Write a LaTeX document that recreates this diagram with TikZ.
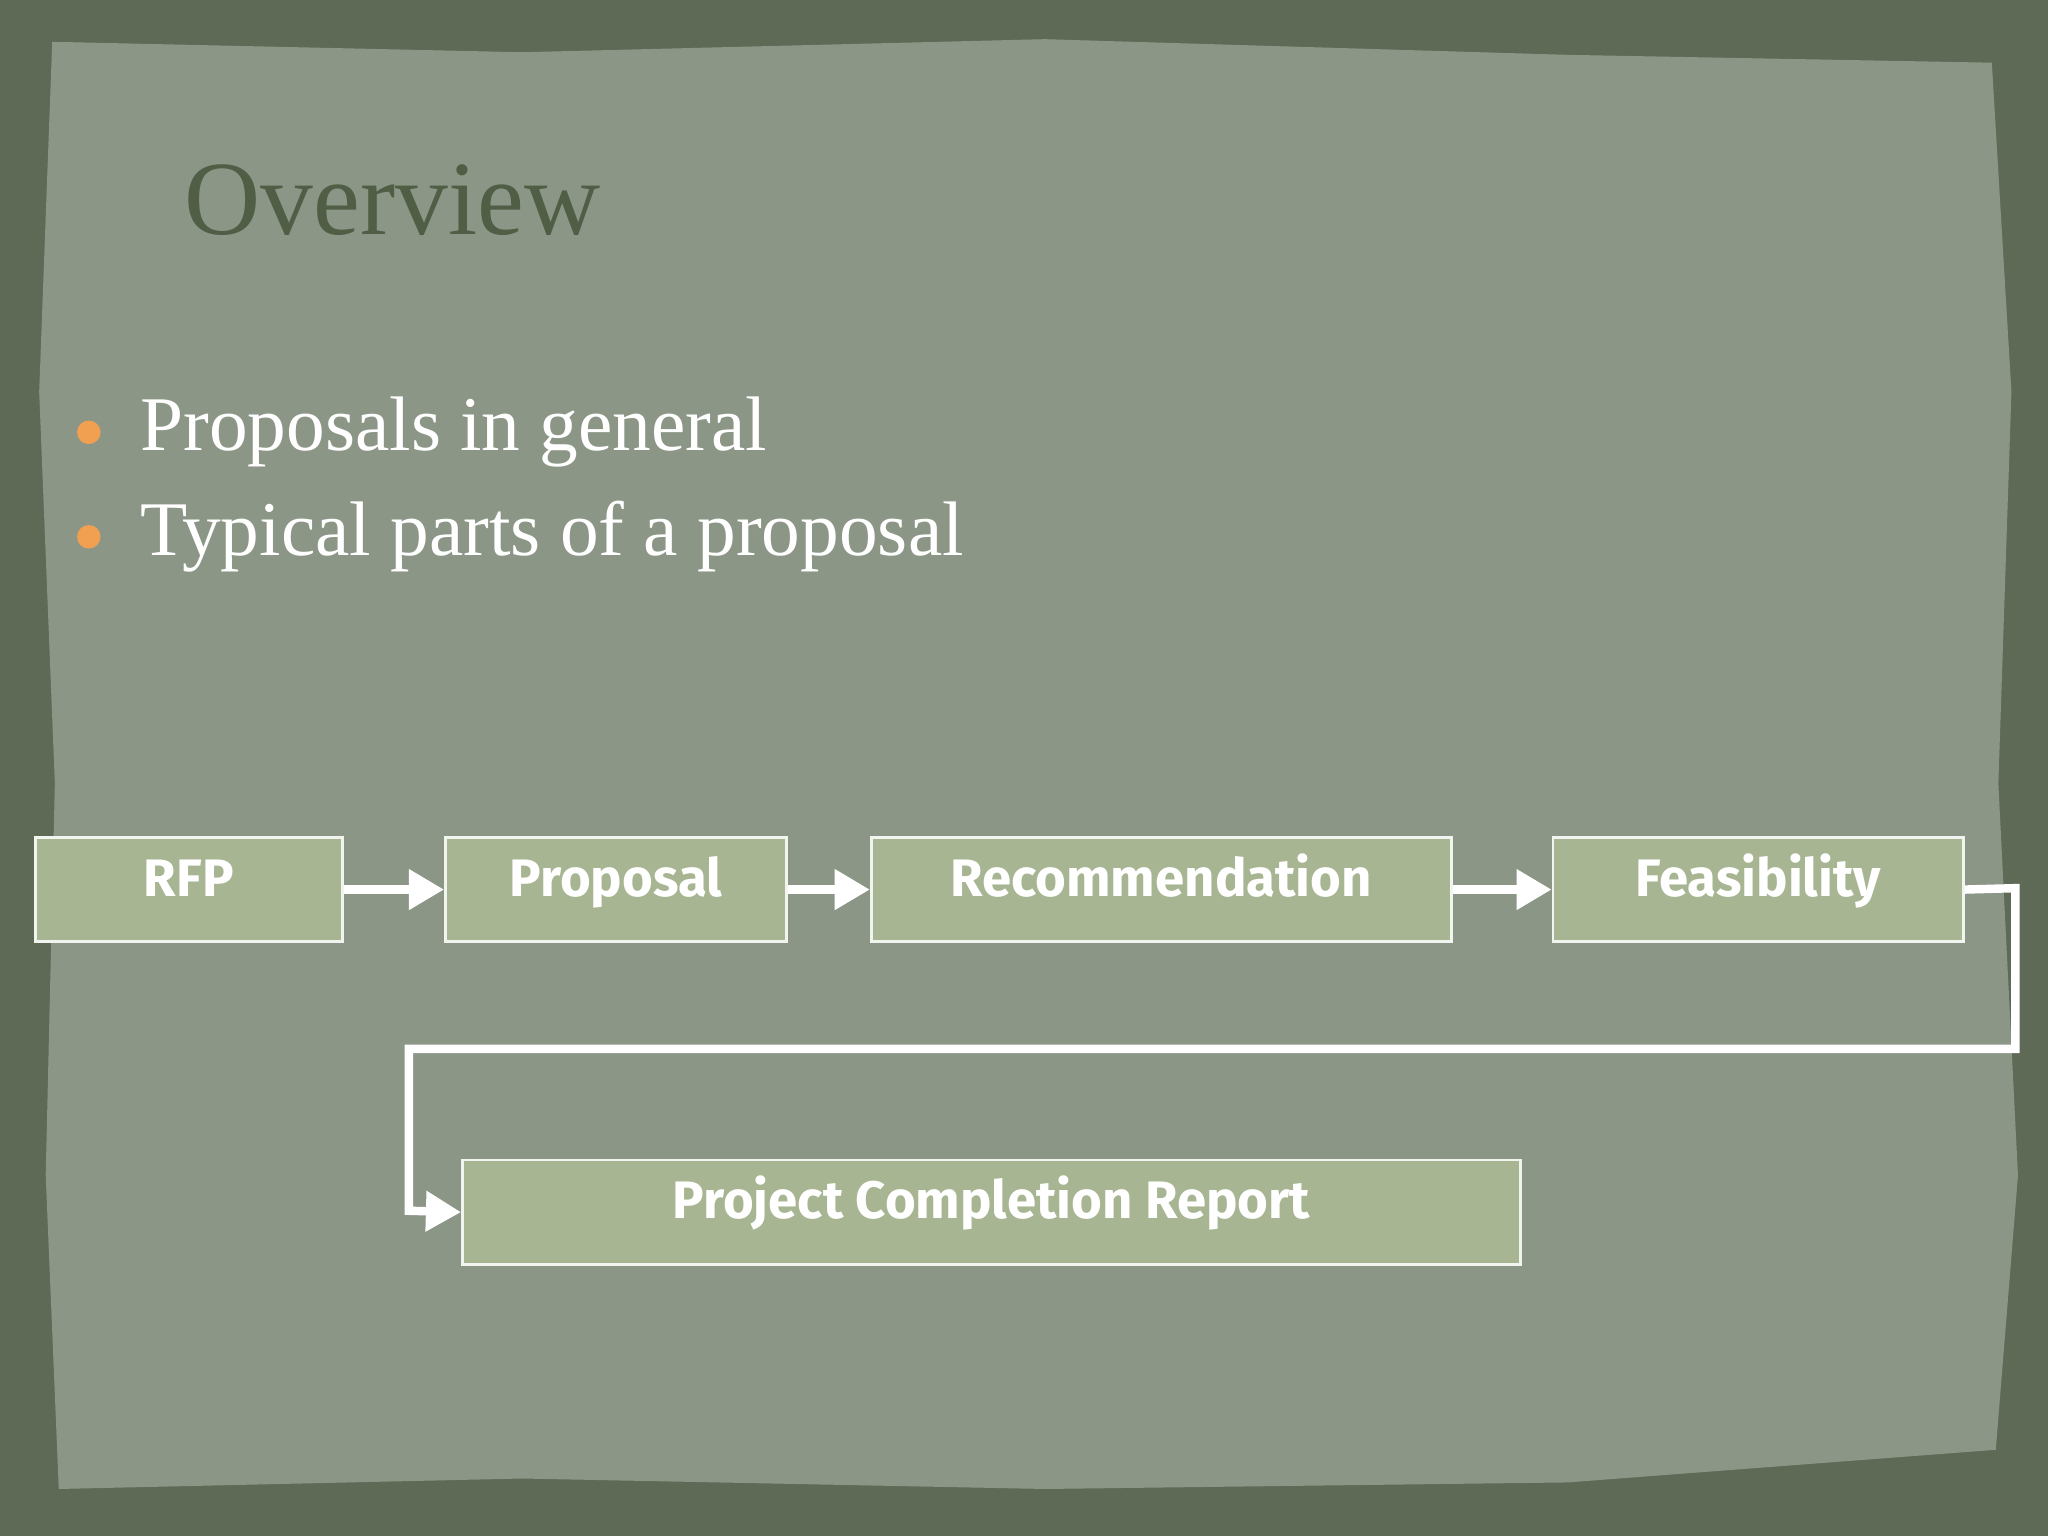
\documentclass[tikz,border=0pt]{standalone}
\usepackage{fontspec}
\setmainfont{Liberation Serif}
\newfontfamily\boxfont{Fira Sans}
\usetikzlibrary{arrows.meta}
\definecolor{frame}{HTML}{5E6A56}
\definecolor{paper}{HTML}{8C9686}
\definecolor{boxfill}{HTML}{A7B592}
\definecolor{titlec}{HTML}{4F5E45}
\definecolor{bulletc}{HTML}{F0A050}
\tikzset{
 stepbox/.style={draw=white!85!boxfill, line width=0.8pt, fill=boxfill, text=white, font=\boxfont\bfseries\fontsize{15}{17}\selectfont, anchor=north west, inner sep=0pt, text height=1.7ex, text depth=0.9ex},
 flow/.style={draw=white, line width=2.4pt, -{Triangle[length=10pt,width=11pt]}},
 bullettext/.style={text=white, font=\fontsize{22}{25}\selectfont, anchor=west}
}
\begin{document}
\begin{tikzpicture}[x=0.013061cm,y=-0.013061cm]
\useasboundingbox (0,0) rectangle (1568,1176);
\fill[frame] (0,0) rectangle (1568,1176);
\fill[paper] (40,32) -- (400,40) -- (800,30) -- (1200,42) -- (1525,48) -- (1540,300) -- (1530,600) -- (1545,900) -- (1528,1110) -- (1200,1135) -- (800,1140) -- (400,1132) -- (45,1140) -- (35,900) -- (42,600) -- (30,300) -- cycle;
\node[anchor=west, text=titlec, font=\fontsize{30}{34}\selectfont] (title) at (132,153) {Overview};
\fill[bulletc] (68,331) circle (9);
\fill[bulletc] (68,411) circle (9);
\node[bullettext] (b1) at (98,331) {Proposals in general};
\node[bullettext] (b2) at (98,411) {Typical parts of a proposal};
\node[stepbox, minimum width=235*0.013061cm, minimum height=80*0.013061cm] (rfp) at (26,640) {RFP};
\node[stepbox, minimum width=261*0.013061cm, minimum height=80*0.013061cm] (prop) at (340,640) {Proposal};
\node[stepbox, minimum width=444*0.013061cm, minimum height=80*0.013061cm] (rec) at (666,640) {Recommendation};
\node[stepbox, minimum width=314*0.013061cm, minimum height=80*0.013061cm] (feas) at (1188,640) {Feasibility};
\node[stepbox, minimum width=810*0.013061cm, minimum height=80*0.013061cm] (pcr) at (353,887) {Project Completion Report};
\draw[flow] (rfp.east) -- (prop.west);
\draw[flow] (prop.east) -- (rec.west);
\draw[flow] (rec.east) -- (feas.west);
\draw[flow] (feas.east) -- (1543,680) -- (1543,803) -- (313,803) -- (313,927) -- (pcr.west);
\end{tikzpicture}
\end{document}
